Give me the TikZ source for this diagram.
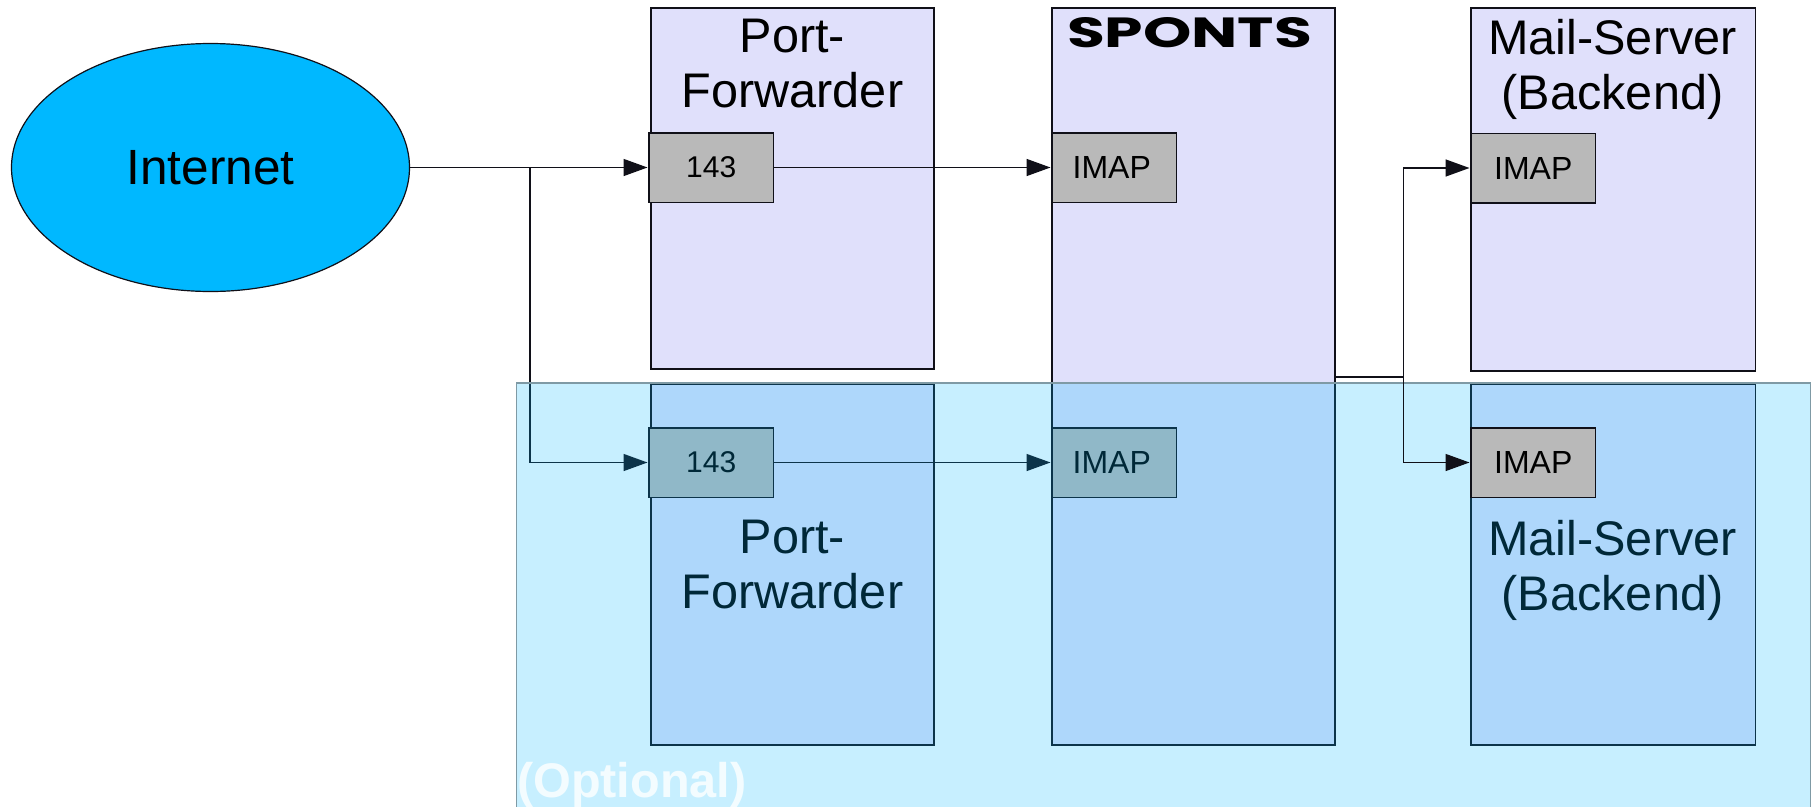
\documentclass[tikz,border=0pt]{standalone}
\usepackage{fontspec}
\usepackage{graphicx}
\setmainfont{Liberation Sans}
\newfontfamily\logofont{Poppins}
\usetikzlibrary{arrows.meta,shapes.geometric}
\definecolor{hostfill}{HTML}{E0E0FB}
\definecolor{portfill}{HTML}{B9B9B9}
\definecolor{inetfill}{HTML}{00B8FF}
\definecolor{optfill}{HTML}{00B8FF}
\definecolor{optedge}{HTML}{7F9AA5}
\definecolor{inkline}{HTML}{101018}
\tikzset{
  every node/.style={inner sep=0pt,outer sep=0pt},
  hostbox/.style={draw=inkline,line width=1.5pt,fill=hostfill,rectangle},
  portbox/.style={draw=inkline,line width=1.5pt,fill=portfill,rectangle,minimum width=124.5pt,minimum height=69.5pt,font=\fontsize{32}{36}\selectfont},
  biglabel/.style={align=center,anchor=north,font=\fontsize{48.6}{55}\selectfont,text=black},
  link/.style={draw=inkline,line width=1.5pt},
  arrowlink/.style={link,-{Triangle[length=24pt,width=17pt]},shorten >=1.5pt},
}
\begin{document}
\begin{tikzpicture}[x=1pt,y=-1pt]
\useasboundingbox (0,0) rectangle (1812,806);
\clip (0,0) rectangle (1812,806);
% upper hosts
\node[hostbox,minimum width=283pt,minimum height=361pt] (pfa) at (792.5,188.5) {};
\node[hostbox,minimum width=283pt,minimum height=737pt] (sp) at (1193.5,376.5) {};
\node[hostbox,minimum width=284.5pt,minimum height=363pt] (msa) at (1613.25,189.5) {};
% lower hosts
\node[hostbox,minimum width=283pt,minimum height=361pt] (pfb) at (792.5,564.5) {};
\node[hostbox,minimum width=284.5pt,minimum height=361pt] (msb) at (1613.25,564.5) {};
% labels
\node[biglabel] (pfatxt) at (792.5,19) {Port-\\Forwarder};
\node[biglabel] (msatxt) at (1612.5,19) {Mail-Server\\(Backend)};
\node[biglabel] (pfbtxt) at (792.5,520) {Port-\\Forwarder};
\node[biglabel] (msbtxt) at (1612.5,520) {Mail-Server\\(Backend)};
\node (sptxt) at (1189.5,33) {\resizebox{245pt}{30pt}{\logofont\bfseries SPONTS}};
% internet
\node[draw=inkline,line width=1.2pt,fill=inetfill,ellipse,minimum width=398pt,minimum height=248pt,font=\fontsize{49.5}{55}\selectfont] (inet) at (210.5,167.5) {Internet};
% ports
\node[portbox,font=\fontsize{30}{36}\selectfont] (pa) at (711.25,167.5) {143};
\node[portbox] (ia) at (1114.25,167.5) {\hspace*{-5pt}IMAP};
\node[portbox] (ma) at (1533.25,168) {IMAP};
\node[portbox,font=\fontsize{30}{36}\selectfont] (pb) at (711.25,462.5) {143};
\node[portbox] (ib) at (1114.25,462.5) {\hspace*{-5pt}IMAP};
% junctions
\coordinate (jn) at (530,167.5);
\coordinate (sx) at (1335,377);
\coordinate (jm) at (1403.5,377);
% connectors beneath the optional zone
\draw[arrowlink] (inet.east) -- (pa.west);
\draw[arrowlink] (jn) |- (pb.west);
\draw[arrowlink] (pa.east) -- (ia.west);
\draw[arrowlink] (pb.east) -- (ib.west);
\draw[arrowlink] (jm) |- (ma.west);
% optional zone
\node[draw=optedge,line width=1.2pt,fill=optfill,fill opacity=0.22,rectangle,minimum width=1294pt,minimum height=430pt] (opt) at (1163.5,598) {};
\node[anchor=base west,font=\bfseries\fontsize{48.6}{50}\selectfont,text=white,text opacity=0.8] (opttxt) at (517,797) {(Optional)};
% connectors and port above the zone
\node[portbox] (mb) at (1533.25,462.5) {IMAP};
\draw[link] (sx) -- (jm);
\draw[arrowlink] (jm) |- (mb.west);
\end{tikzpicture}
\end{document}
